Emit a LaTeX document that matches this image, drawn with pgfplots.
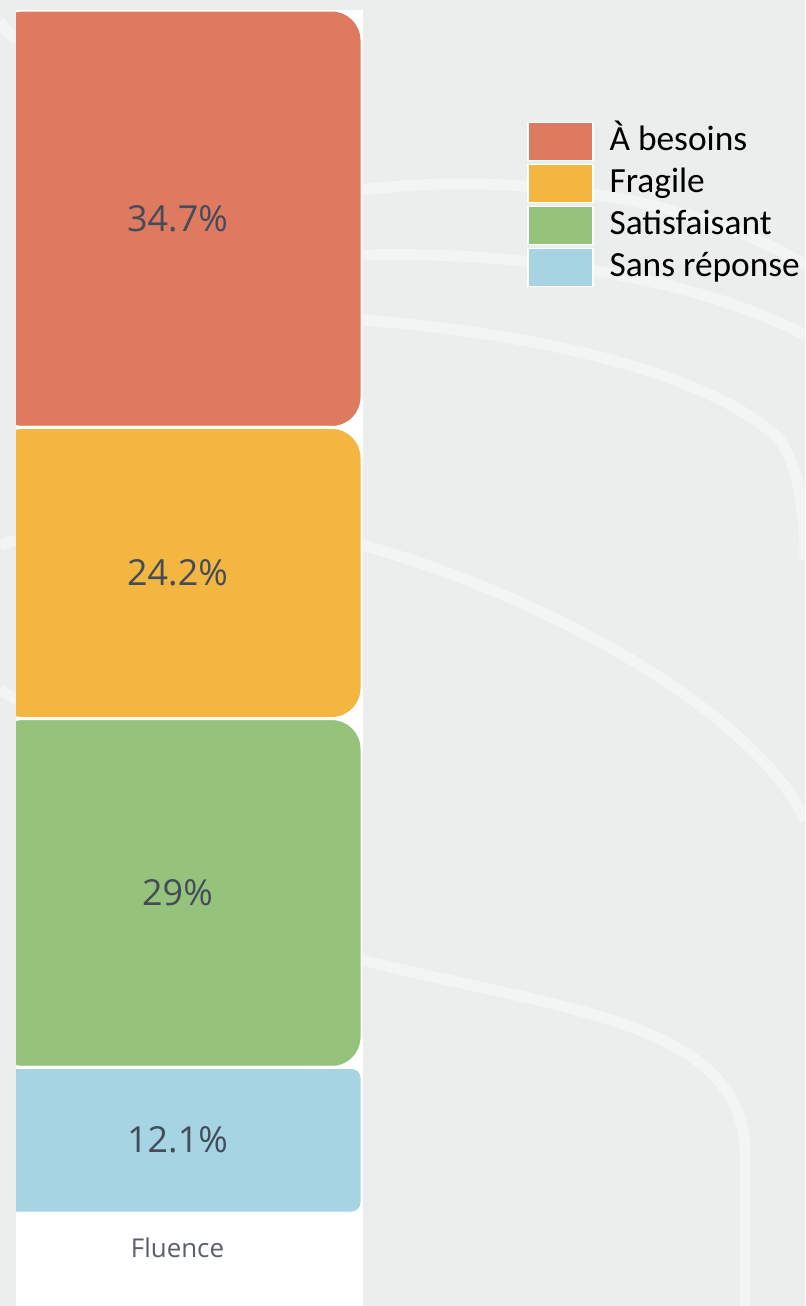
\documentclass[border=0pt]{standalone}
\usepackage{pgfplots}
\pgfplotsset{compat=1.18}
\usepackage{fontspec}
\setmainfont{Open Sans}
\newfontfamily\legfont{Carlito}
\definecolor{cRed}{HTML}{DE7A5F}
\definecolor{cYel}{HTML}{F3B641}
\definecolor{cGrn}{HTML}{95C37B}
\definecolor{cBlu}{HTML}{A6D4E2}
\definecolor{bgGray}{HTML}{ECEEED}
\definecolor{labCol}{HTML}{444B5A}
\definecolor{tickCol}{HTML}{5A5F6B}
\begin{document}
\begin{tikzpicture}[x=1bp,y=1bp]
% background
\fill[bgGray] (0,0) rectangle (805,-1306);
\begin{scope}[draw=white, opacity=0.4, line width=11bp]
\draw (362,-190) .. controls (520,-170) and (700,-200) .. (805,-265);
\draw (362,-255) .. controls (560,-250) and (720,-290) .. (805,-335);
\draw (362,-320) .. controls (560,-335) and (720,-380) .. (780,-440) .. controls (800,-470) and (805,-520) .. (805,-560);
\draw (362,-545) .. controls (560,-600) and (760,-720) .. (805,-820);
\draw (362,-960) .. controls (560,-1010) and (740,-1020) .. (745,-1150) -- (745,-1306);
\draw (0,-20) .. controls (5,-30) and (10,-35) .. (17,-40);
\draw (0,-545) -- (17,-540);
\draw (0,-690) -- (17,-700);
\end{scope}
% white panel
\fill[white] (16,-10) rectangle (363,-1306);
\begin{axis}[
  at={(16bp,-1213bp)}, anchor=south west,
  scale only axis, width=346bp, height=1203bp,
  xmin=16, xmax=362, ymin=0, ymax=100, enlargelimits=false,
  axis line style={draw=none},
  ytick=\empty, xtick={177.5}, xticklabels={Fluence},
  major tick length=0pt,
  xticklabel style={font=\fontsize{26}{30}\selectfont, text=tickCol, anchor=base, yshift=-44bp},
  ybar stacked, bar width=369,
  nodes near coords,
  point meta=explicit symbolic,
  every node near coord/.append style={anchor=center, inner sep=0pt, font=\fontsize{36}{40}\selectfont, text=labCol},
  legend image code/.code={\fill[#1, draw=white, line width=1.5bp, sharp corners] (0bp,-18bp) rectangle (65bp,20bp);},
  reverse legend,
  legend style={at={(1.477,0.9075)}, anchor=north west, draw=none, fill=none, inner sep=0pt, outer sep=0pt,
    font=\legfont\fontsize{35.5}{42}\selectfont, row sep=0bp,
    nodes={inner sep=0pt, text height=29bp, text depth=13bp},
    /tikz/every odd column/.append style={column sep=16bp}},
  legend cell align=left,
]
\addplot[fill=cBlu, draw=white, line width=3bp, rounded corners=10bp] coordinates {(177.5,12.1) [12.1\%]};
\addplot[fill=cGrn, draw=white, line width=3bp, rounded corners=30bp] coordinates {(177.5,29) [29\%]};
\addplot[fill=cYel, draw=white, line width=3bp, rounded corners=30bp] coordinates {(177.5,24.2) [24.2\%]};
\addplot[fill=cRed, draw=white, line width=3bp, rounded corners=30bp] coordinates {(177.5,34.7) [34.7\%]};
\legend{Sans réponse, Satisfaisant, Fragile, À besoins}
\end{axis}
\pgfresetboundingbox
\path[use as bounding box] (0,0) rectangle (805,-1306);
\end{tikzpicture}
\end{document}
